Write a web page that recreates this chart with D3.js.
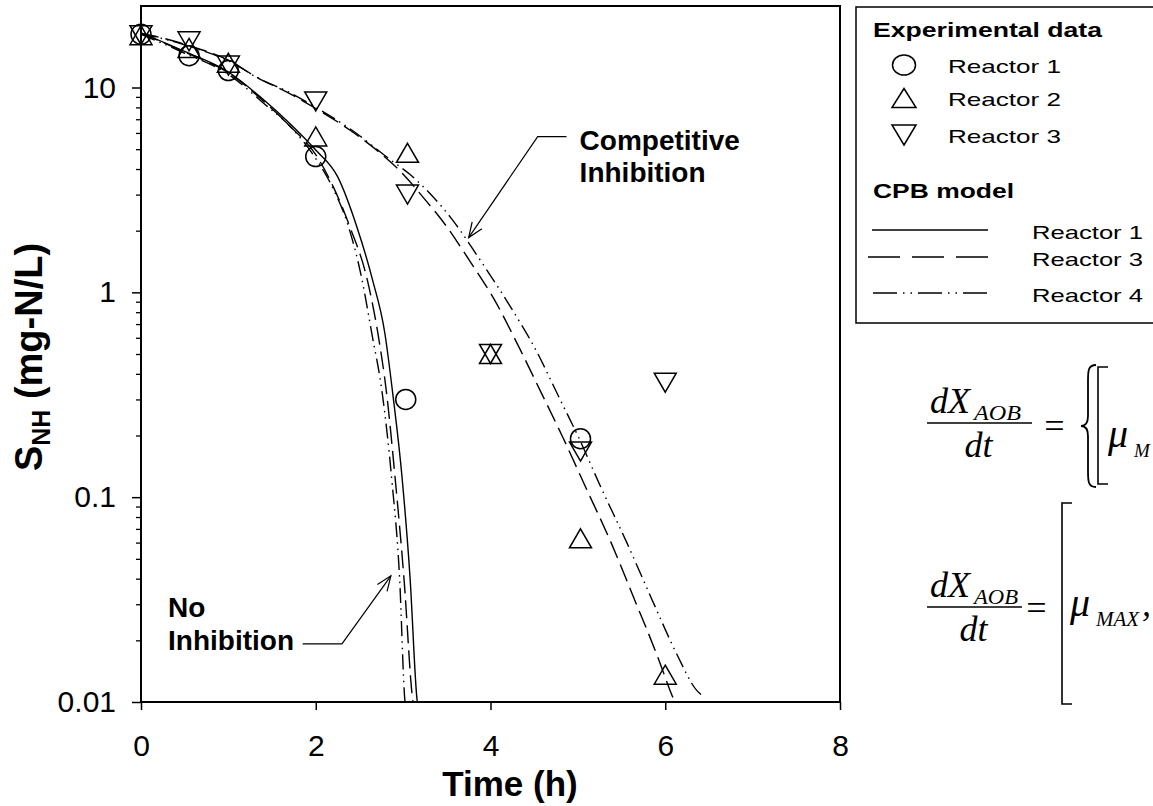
<!DOCTYPE html>
<html>
<head>
<meta charset="utf-8">
<script src="https://cdnjs.cloudflare.com/ajax/libs/d3/7.8.5/d3.min.js"></script>
<style>
  body { margin: 0; background: #fff; }
  svg text { font-family: "Liberation Sans", Arial, sans-serif; fill: #000; }
  .eq text { font-family: "Liberation Serif", "Times New Roman", serif; font-style: italic; }
</style>
</head>
<body>
<script>
// experimental data: time (h) and S_NH (mg-N/L)
var r1Time = [0, 0.55, 1, 2, 3.03, 5.03];
var r1Val  = [18.2, 14.3, 12.1, 4.6, 0.30, 0.193];
var r2Time = [0, 0.55, 1, 2, 3.05, 4.0, 5.03, 6.0];
var r2Val  = [18.0, 15.6, 13.2, 5.77, 4.8, 0.5, 0.063, 0.0136];
var r3Time = [0, 0.55, 1, 2, 3.05, 4.0, 5.03, 6.0];
var r3Val  = [18.0, 16.8, 12.8, 8.55, 3.0, 0.5, 0.167, 0.362];

// CPB model curves [time, S_NH]
var noInhR1 = [[0,18.5],[0.5,15.0],[1,11.9],[1.4,8.74],[1.7,6.7],[2,4.95],[2.25,3.67],[2.47,2.09],
  [2.65,1.15],[2.79,0.635],[2.88,0.324],[2.99,0.122],[3.08,0.04],[3.16,0.0102],[3.18,0.009]];
var noInhR3 = [[0,18.4],[0.5,14.9],[1,11.8],[1.4,8.6],[1.7,6.5],[2,4.7],[2.2,3.28],[2.39,2.09],
  [2.59,1.15],[2.71,0.635],[2.81,0.324],[2.91,0.122],[3.01,0.04],[3.11,0.0102],[3.13,0.009]];
var noInhR4 = [[0,18.2],[0.5,14.7],[1,11.6],[1.4,8.4],[1.74,6.24],[2,4.5],[2.2,3.2],[2.36,2.19],
  [2.53,1.15],[2.64,0.635],[2.76,0.324],[2.87,0.122],[2.96,0.04],[3.02,0.0102],[3.04,0.009]];
var compR3 = [[0,18.4],[0.3,17.2],[0.55,16.0],[1,13.6],[1.36,11.0],[1.67,9.5],[2,7.9],[2.39,6.2],
  [2.85,4.35],[2.96,3.93],[3.28,2.74],[3.42,2.32],[3.76,1.43],[4.07,0.88],[4.34,0.525],[4.58,0.324],
  [4.83,0.195],[5.08,0.114],[5.38,0.06],[5.65,0.0315],[5.9,0.0172],[6.08,0.0107],[6.13,0.0095]];
var compR4 = [[0,18.2],[0.3,17.1],[0.55,15.9],[1,13.5],[1.36,11.0],[1.67,9.6],[2,8.0],[2.39,6.3],
  [2.85,4.45],[3.08,3.76],[3.56,2.27],[3.9,1.40],[4.22,0.861],[4.53,0.513],[4.77,0.316],[5.02,0.191],
  [5.25,0.115],[5.56,0.06],[5.85,0.0315],[6.13,0.0172],[6.36,0.0114],[6.43,0.0107]];

var xTicks = [0, 2, 4, 6, 8];
var yTicks = [0.01, 0.1, 1, 10];
var yMinor = [];
[0.01, 0.1, 1].forEach(function(d){ for (var k = 2; k <= 9; k++) yMinor.push(d * k); });

// annotation anchors in data units
var compArrow = [[4.87,5.76],[4.54,5.76],[3.75,1.85]];
var noArrow = [[1.85,0.0192],[2.30,0.0192],[2.86,0.0413]];

var margin = {top: 6, right: 313, bottom: 104, left: 141},
    width = 1153 - margin.left - margin.right,
    height = 806 - margin.top - margin.bottom;

var svg = d3.select("body").append("svg")
  .attr("width", 1153)
  .attr("height", 806);

var g = svg.append("g")
  .attr("transform", "translate(" + margin.left + "," + margin.top + ")");

var x = d3.scaleLinear().domain([0, 8]).range([0, width]);
var y = d3.scaleLog().domain([0.01, 25]).range([height, 0]);

// axes
var xAxis = g.append("g")
  .attr("transform", "translate(0," + height + ")")
  .call(d3.axisBottom(x).tickValues(xTicks).tickSize(8).tickSizeOuter(0).tickPadding(25));
xAxis.select(".domain").remove();
xAxis.selectAll("line").attr("stroke-width", 1.5);
xAxis.selectAll("text").attr("font-size", 30).attr("font-family", null);

var yAxis = g.append("g")
  .call(d3.axisLeft(y).tickValues(yTicks).tickSize(9).tickSizeOuter(0).tickPadding(16)
    .tickFormat(function(d){ return String(d); }));
yAxis.select(".domain").remove();
yAxis.selectAll("line").attr("stroke-width", 1.5);
yAxis.selectAll("text").attr("font-size", 30).attr("font-family", null);

var yAxisMinor = g.append("g")
  .call(d3.axisLeft(y).tickValues(yMinor).tickSize(5).tickFormat(""));
yAxisMinor.select(".domain").remove();
yAxisMinor.selectAll("line").attr("stroke-width", 1.3);

g.append("rect")
  .attr("width", width).attr("height", height)
  .attr("fill", "none").attr("stroke", "#000").attr("stroke-width", 2);

// axis titles
svg.append("text")
  .attr("transform", "translate(42," + (margin.top + height / 2 + 3) + ") rotate(-90)")
  .attr("text-anchor", "middle")
  .attr("font-size", 38).attr("font-weight", "bold")
  .call(function(t){
    t.append("tspan").text("S");
    t.append("tspan").attr("font-size", 25).attr("dy", 8).text("NH");
    t.append("tspan").attr("dy", -8).text(" (mg-N/L)");
  });

svg.append("text")
  .attr("x", 510).attr("y", 796)
  .attr("text-anchor", "middle")
  .attr("font-size", 35).attr("font-weight", "bold")
  .text("Time (h)");

// model curves
g.append("clipPath").attr("id", "plotclip")
  .append("rect").attr("width", width).attr("height", height);

var line = d3.line()
  .x(function(d){ return x(d[0]); })
  .y(function(d){ return y(d[1]); })
  .curve(d3.curveMonotoneX);

var dashStyles = {solid: null, dash: "18,7", dashdot: "15,5,1.5,5,1.5,5"};
var curves = [
  {data: noInhR1, dash: dashStyles.solid},
  {data: noInhR3, dash: dashStyles.dash},
  {data: noInhR4, dash: dashStyles.dashdot},
  {data: compR3, dash: dashStyles.dash},
  {data: compR4, dash: dashStyles.dashdot}
];
g.append("g").attr("clip-path", "url(#plotclip)")
  .selectAll("path").data(curves).enter().append("path")
  .attr("fill", "none")
  .attr("stroke", "#000")
  .attr("stroke-width", 1.4)
  .attr("stroke-dasharray", function(d){ return d.dash; })
  .attr("d", function(d){ return line(d.data); });

// markers
function triUp(w, h) { return "M0," + (-h/2) + "L" + (w/2) + "," + (h/2) + "L" + (-w/2) + "," + (h/2) + "Z"; }
function triDown(w, h) { return "M0," + (h/2) + "L" + (w/2) + "," + (-h/2) + "L" + (-w/2) + "," + (-h/2) + "Z"; }

var marks = g.append("g");
marks.selectAll(".r1").data(r1Time).enter().append("circle")
  .attr("cx", function(d){ return x(d); })
  .attr("cy", function(d, i){ return y(r1Val[i]); })
  .attr("r", 10)
  .attr("fill", "none").attr("stroke", "#000").attr("stroke-width", 1.5);
marks.selectAll(".r2").data(r2Time).enter().append("path")
  .attr("d", triUp(22, 19))
  .attr("transform", function(d, i){ return "translate(" + x(d) + "," + y(r2Val[i]) + ")"; })
  .attr("fill", "none").attr("stroke", "#000").attr("stroke-width", 1.5);
marks.selectAll(".r3").data(r3Time).enter().append("path")
  .attr("d", triDown(22, 19))
  .attr("transform", function(d, i){ return "translate(" + x(d) + "," + y(r3Val[i]) + ")"; })
  .attr("fill", "none").attr("stroke", "#000").attr("stroke-width", 1.5);

// annotations
function arrow(pts) {
  var p = pts.map(function(d){ return [x(d[0]), y(d[1])]; });
  g.append("path")
    .attr("d", d3.line()(p))
    .attr("fill", "none").attr("stroke", "#000").attr("stroke-width", 1.2);
  var tip = p[p.length - 1], from = p[p.length - 2];
  var ang = Math.atan2(from[1] - tip[1], from[0] - tip[0]);
  var L = 16, a = 0.38;
  var w1 = [tip[0] + L * Math.cos(ang + a), tip[1] + L * Math.sin(ang + a)];
  var w2 = [tip[0] + L * Math.cos(ang - a), tip[1] + L * Math.sin(ang - a)];
  g.append("path")
    .attr("d", d3.line()([w1, tip, w2]))
    .attr("fill", "none").attr("stroke", "#000").attr("stroke-width", 1.2);
}
arrow(compArrow);
arrow(noArrow);

g.append("text").attr("x", x(5.02)).attr("y", y(4.98))
  .attr("font-size", 28).attr("font-weight", "bold").text("Competitive");
g.append("text").attr("x", x(5.02)).attr("y", y(3.47))
  .attr("font-size", 28).attr("font-weight", "bold").text("Inhibition");
g.append("text").attr("x", x(0.31)).attr("y", y(0.0261))
  .attr("font-size", 28).attr("font-weight", "bold").text("No");
g.append("text").attr("x", x(0.31)).attr("y", y(0.01797))
  .attr("font-size", 28).attr("font-weight", "bold").text("Inhibition");

// legend
var leg = svg.append("g");
leg.append("rect")
  .attr("x", 856).attr("y", 7).attr("width", 400).attr("height", 316)
  .attr("fill", "#fff").attr("stroke", "#000").attr("stroke-width", 1.5);

var legHead = [["Experimental data", 873, 37, 229], ["CPB model", 873, 198, 141]];
leg.selectAll(".head").data(legHead).enter().append("text")
  .attr("x", function(d){ return d[1]; }).attr("y", function(d){ return d[2]; })
  .attr("font-size", 21).attr("font-weight", "bold")
  .attr("textLength", function(d){ return d[3]; }).attr("lengthAdjust", "spacingAndGlyphs")
  .text(function(d){ return d[0]; });

var legSym = [
  {name: "Reactor 1", y: 65, shape: "circle"},
  {name: "Reactor 2", y: 98, shape: "up"},
  {name: "Reactor 3", y: 135, shape: "down"}
];
legSym.forEach(function(d){
  if (d.shape === "circle") {
    leg.append("ellipse").attr("cx", 904).attr("cy", d.y).attr("rx", 11.5).attr("ry", 10)
      .attr("fill", "none").attr("stroke", "#000").attr("stroke-width", 1.5);
  } else {
    leg.append("path").attr("d", d.shape === "up" ? triUp(24, 19) : triDown(24, 20))
      .attr("transform", "translate(904," + d.y + ")")
      .attr("fill", "none").attr("stroke", "#000").attr("stroke-width", 1.5);
  }
  leg.append("text").attr("x", 948).attr("y", d.y + 8)
    .attr("font-size", 19).attr("textLength", 113).attr("lengthAdjust", "spacingAndGlyphs")
    .text(d.name);
});

var legLines = [
  {name: "Reactor 1", y: 230, x0: 872, dash: null},
  {name: "Reactor 3", y: 257, x0: 868, dash: "32,12"},
  {name: "Reactor 4", y: 293, x0: 873, dash: "24,6,1.5,6,1.5,6"}
];
legLines.forEach(function(d){
  leg.append("line").attr("x1", d.x0).attr("x2", 988).attr("y1", d.y).attr("y2", d.y)
    .attr("stroke", "#000").attr("stroke-width", 1.3).attr("stroke-dasharray", d.dash);
  leg.append("text").attr("x", 1032).attr("y", d.y + 9)
    .attr("font-size", 19).attr("textLength", 111).attr("lengthAdjust", "spacingAndGlyphs")
    .text(d.name);
});

// equations (cut off at the right edge in the source figure)
var eq = svg.append("g").attr("class", "eq");
function frac(lineY, lineEnd, subLen) {
  eq.append("text").attr("x", 930).attr("y", lineY - 10).attr("font-size", 36).text("dX");
  eq.append("text").attr("x", 974).attr("y", lineY - 3).attr("font-size", 20)
    .attr("textLength", subLen).attr("lengthAdjust", "spacingAndGlyphs").text("AOB");
  eq.append("line").attr("x1", 927).attr("x2", lineEnd).attr("y1", lineY).attr("y2", lineY)
    .attr("stroke", "#000").attr("stroke-width", 1.6);
  eq.append("text").attr("x", (927 + lineEnd) / 2 - 15).attr("y", lineY + 34).attr("font-size", 36).text("dt");
}
frac(423, 1032, 47);
eq.append("text").attr("x", 1042).attr("y", 438).attr("font-size", 36).attr("font-style", "normal").text("=");
eq.append("path")
  .attr("d", "M1096,365 C1088,365 1088,371 1088,381 L1088,416 C1088,423 1085,426 1081,426 C1085,426 1088,429 1088,436 L1088,471 C1088,481 1088,487 1096,487")
  .attr("fill", "none").attr("stroke", "#000").attr("stroke-width", 1.8);
eq.append("path").attr("d", "M1108,367 L1098,367 L1098,484 L1108,484")
  .attr("fill", "none").attr("stroke", "#000").attr("stroke-width", 1.6);
eq.append("text").attr("x", 1108).attr("y", 447).attr("font-size", 40).text("μ");
eq.append("text").attr("x", 1134).attr("y", 457).attr("font-size", 19).text("M");

frac(607, 1022, 44);
eq.append("text").attr("x", 1024).attr("y", 620).attr("font-size", 36).attr("font-style", "normal").text("=");
eq.append("path").attr("d", "M1072,503 L1062,503 L1062,704 L1072,704")
  .attr("fill", "none").attr("stroke", "#000").attr("stroke-width", 1.6);
eq.append("text").attr("x", 1070).attr("y", 616).attr("font-size", 40).text("μ");
eq.append("text").attr("x", 1096).attr("y", 626).attr("font-size", 21).text("MAX");
eq.append("text").attr("x", 1142).attr("y", 616).attr("font-size", 36).attr("font-style", "normal").text(",");
</script>
</body>
</html>
